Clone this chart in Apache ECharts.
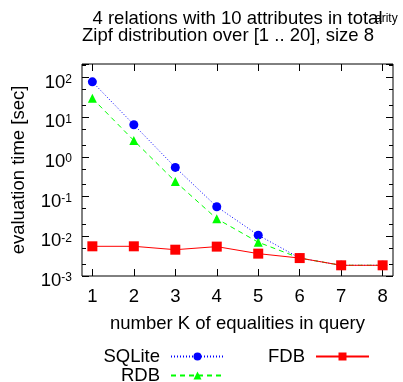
<!DOCTYPE html>
<html><head><meta charset="utf-8">
<script src="https://cdn.jsdelivr.net/npm/echarts@6/dist/echarts.min.js"></script>
<style>html,body{margin:0;padding:0;background:#fff}#c{width:403px;height:382px}</style>
</head><body><div id="c"></div>
<script>
const categories = [1, 2, 3, 4, 5, 6, 7, 8];
const sqlite = [78, 6.5, 0.545, 0.0557, 0.0107, 0.00283, 0.00186, 0.00186];
const rdb = [30, 2.6, 0.24, 0.0277, 0.0071, 0.00283, 0.00186, 0.00186];
const fdb = [0.0056, 0.0056, 0.0046, 0.0055, 0.00366, 0.00283, 0.00186, 0.00186];
const yMinorTicks = [0.002, 0.005, 0.02, 0.05, 0.2, 0.5, 2, 5, 20, 50, 200];
const titleLine1 = '4 relations with 10 attributes in total';
const titleLine2 = 'Zipf distribution over [1 .. 20], size 8';
const titleSup = 'arity';
const xName = 'number K of equalities in query';
const yName = 'evaluation time [sec]';

const FONT = 'Liberation Sans, Arial, Helvetica, sans-serif';
const FS = 18.5;
const chart = echarts.init(document.getElementById('c'), null, {renderer: 'canvas'});
const pairs = arr => categories.map((k, i) => [k, arr[i]]);

const yFmt = v => {
  const l = Math.log10(v), e = Math.round(l);
  if (Math.abs(l - e) > 1e-6) return '';
  return '{b|10}{s|' + e + '}';
};
const yRich = {
  b: {fontSize: FS, lineHeight: 18, fontFamily: FONT, color: '#000', padding: [10, 0, 0, 0]},
  s: {fontSize: 12, lineHeight: 12, fontFamily: FONT, color: '#000', verticalAlign: 'top', padding: [5, 0, 0, 0]}
};
const xAxisBase = {
  type: 'value', min: 0.75, max: 8.25, splitLine: {show: false},
  axisLine: {show: false}
};
const yAxisBase = {
  type: 'log', logBase: 10, min: 0.001, max: 220, splitLine: {show: false},
  axisLine: {show: false}, minorTick: {show: false}, minorSplitLine: {show: false}
};

chart.setOption({
  animation: false,
  backgroundColor: '#fff',
  grid: {left: 82, right: 10, top: 64, bottom: 106, show: true, borderColor: '#000', borderWidth: 1, backgroundColor: 'transparent'},
  graphic: [
    {type: 'text', x: 237.5, y: 18.5, style: {text: titleLine1, font: FS + 'px ' + FONT, fill: '#000', align: 'center', verticalAlign: 'middle'}},
    {type: 'text', x: 374, y: 35.5, style: {text: titleLine2, font: FS + 'px ' + FONT, fill: '#000', align: 'right', verticalAlign: 'middle'}},
    {type: 'text', x: 375, y: 18.5, style: {text: titleSup, font: '12px ' + FONT, fill: '#000', align: 'left', verticalAlign: 'middle'}}
  ],
  xAxis: [
    Object.assign({}, xAxisBase, {
      position: 'bottom',
      name: xName, nameLocation: 'middle', nameGap: 38,
      nameTextStyle: {fontSize: FS, fontFamily: FONT, color: '#000'},
      axisTick: {show: true, inside: true, length: 7, customValues: categories, lineStyle: {color: '#000'}},
      axisLabel: {show: true, customValues: categories, fontSize: FS, fontFamily: FONT, color: '#000', margin: 11}
    }),
    Object.assign({}, xAxisBase, {
      position: 'top',
      axisTick: {show: true, inside: true, length: 7, customValues: categories, lineStyle: {color: '#000'}},
      axisLabel: {show: false}
    })
  ],
  yAxis: [
    Object.assign({}, yAxisBase, {
      position: 'left', interval: 1,
      name: yName, nameLocation: 'middle', nameGap: 54, nameRotate: 90,
      nameTextStyle: {fontSize: FS, fontFamily: FONT, color: '#000'},
      axisTick: {show: true, inside: true, length: 7, lineStyle: {color: '#000'}},
      axisLabel: {show: true, formatter: yFmt, rich: yRich, margin: 10}
    }),
    Object.assign({}, yAxisBase, {
      position: 'left',
      axisTick: {show: true, inside: true, length: 4, customValues: yMinorTicks, lineStyle: {color: '#000'}},
      axisLabel: {show: false}
    }),
    Object.assign({}, yAxisBase, {
      position: 'right', interval: 1,
      axisTick: {show: true, inside: true, length: 7, lineStyle: {color: '#000'}},
      axisLabel: {show: false}
    }),
    Object.assign({}, yAxisBase, {
      position: 'right',
      axisTick: {show: true, inside: true, length: 4, customValues: yMinorTicks, lineStyle: {color: '#000'}},
      axisLabel: {show: false}
    })
  ],
  legend: [
    {
      data: ['SQLite', 'RDB'], orient: 'vertical', right: 178, top: 347, height: 40, align: 'right',
      itemWidth: 53, itemHeight: 10, itemGap: 0, padding: 0,
      textStyle: {fontSize: FS, fontFamily: FONT, color: '#000', padding: [0, 6, 0, 0]}
    },
    {
      data: ['FDB'], orient: 'vertical', right: 33, top: 347, height: 40, align: 'right',
      itemWidth: 53, itemHeight: 10, itemGap: 0, padding: 0,
      textStyle: {fontSize: FS, fontFamily: FONT, color: '#000', padding: [0, 6, 0, 0]}
    }
  ],
  series: [
    {name: 'SQLite', type: 'line', data: pairs(sqlite), symbol: 'circle', symbolSize: 9,
      itemStyle: {color: '#0000ff'}, lineStyle: {color: '#0000ff', width: 1, type: [1, 2]}, z: 2},
    {name: 'RDB', type: 'line', data: pairs(rdb), symbol: 'triangle', symbolSize: 9,
      itemStyle: {color: '#00ff00'}, lineStyle: {color: '#00ff00', width: 1, type: [5, 4]}, z: 3},
    {name: 'FDB', type: 'line', data: pairs(fdb), symbol: 'rect', symbolSize: 10,
      itemStyle: {color: '#ff0000'}, lineStyle: {color: '#ff0000', width: 1, type: 'solid'}, z: 4}
  ]
});
</script></body></html>
